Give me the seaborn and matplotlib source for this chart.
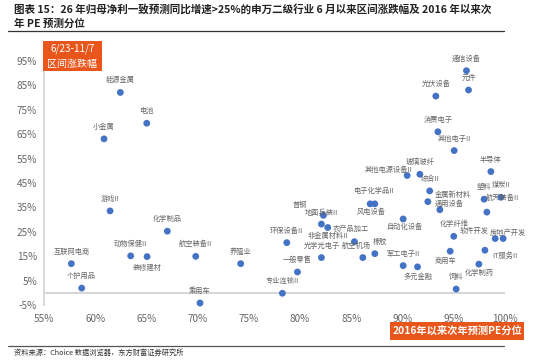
import matplotlib
matplotlib.use("Agg")
import matplotlib.pyplot as plt
import seaborn as sns
import pandas as pd
from matplotlib.patches import Rectangle
from matplotlib.lines import Line2D

sns.set_theme(style="white")
plt.rcParams['font.family'] = ['Noto Sans CJK SC', 'DejaVu Sans']
plt.rcParams['axes.unicode_minus'] = False

# ---- data ----
names = ["能源金属", "电池", "小金属", "通信设备", "元件", "光伏设备", "消费电子", "其他电子II",
         "半导体", "其他电源设备II", "玻璃玻纤", "综合II", "金属新材料", "通用设备", "塑料",
         "煤炭II", "航天装备II", "自动化设备", "化学纤维", "软件开发", "房地产开发", "IT服务II",
         "化学制药", "商用车", "饲料", "军工电子II", "多元金融", "橡胶", "航空机场", "农产品加工",
         "电子化学品II", "风电设备", "普钢", "地面兵装II", "非金属材料II", "环保设备II",
         "光学光电子", "一般零售", "专业连锁II", "游戏II", "化学制品", "动物保健II", "装修建材",
         "航空装备II", "互联网电商", "养殖业", "个护用品", "乘用车"]
pe_pct = [62.45, 65.03, 60.86, 96.24, 96.44, 93.25, 93.45, 95.04,
          98.62, 90.45, 91.69, 92.65, 92.47, 93.64, 97.96,
          99.60, 98.23, 90.06, 95.00, 99.04, 99.82, 98.04,
          97.45, 94.65, 95.23, 90.06, 91.46, 87.29, 86.12, 85.30,
          86.84, 87.29, 82.27, 82.08, 82.70, 78.70,
          82.08, 79.74, 78.27, 61.45, 67.04, 63.46, 65.06,
          69.81, 57.67, 74.20, 58.68, 70.23]
chg = [82.1, 69.5, 63.1, 91.0, 83.1, 80.6, 66.0, 58.3,
       49.7, 48.1, 48.6, 41.8, 37.4, 34.1, 38.4,
       39.2, 33.1, 30.3, 23.2, 22.3, 22.3, 17.5,
       11.8, 17.1, 1.6, 11.2, 10.7, 16.1, 14.5, 21.0,
       36.5, 36.5, 31.8, 28.2, 26.8, 20.6,
       14.5, 8.6, -0.1, 33.6, 25.3, 15.2, 14.9,
       15.0, 12.0, 12.0, 2.0, -4.1]
x_ticks = [55, 60, 65, 70, 75, 80, 85, 90, 95, 100]
y_ticks = [-5, 5, 15, 25, 35, 45, 55, 65, 75, 85, 95]

df = pd.DataFrame({"name": names, "pe": pe_pct, "chg": chg})

# label offsets in pixels (dx, dy); default is centred above the dot
label_offsets = {
    "其他电源设备II": (-19, 6), "金属新材料": (25, 7), "通用设备": (9, 6),
    "航天装备II": (16, 14), "自动化设备": (2, -8), "软件开发": (-21, 8),
    "房地产开发": (5, 6), "IT服务II": (20, -6), "化学制药": (0, -9),
    "商用车": (-5, -10), "多元金融": (0, -10), "农产品加工": (-4, 13),
    "电子化学品II": (3, 13), "风电设备": (-4, -8), "普钢": (-23, 10),
    "地面兵装II": (0, 11), "非金属材料II": (0, -8), "装修建材": (0, -11),
    "橡胶": (5, 12), "航空机场": (-7, 12),
}

W, H = 550, 360
fig = plt.figure(figsize=(5.5, 3.6), dpi=100)
fig.patch.set_facecolor("white")

def fx(px):
    return px / W

def fy(py):
    return 1 - py / H

ax = fig.add_axes([fx(44), fy(305.2), fx(505) - fx(44), fy(53.6) - fy(305.2)])
ax.set_facecolor("none")

sns.scatterplot(data=df, x="pe", y="chg", ax=ax, color="#4472C4", s=24,
                edgecolor="none", legend=False, clip_on=False, zorder=3)

for n, xv, yv in zip(names, pe_pct, chg):
    dx, dy = label_offsets.get(n, (0, 12))
    ax.annotate(n, (xv, yv), xytext=(dx, dy), textcoords="offset pixels",
                ha="center", va="center", fontsize=5.2, color="#666666", zorder=4)

ax.set_xlim(55, 100)
ax.set_ylim(-5, 98)
ax.axhline(0, color="#d0d0d0", lw=1.2, zorder=1)
ax.set_xticks(x_ticks)
ax.set_xticklabels([f"{v}%" for v in x_ticks])
ax.set_yticks(y_ticks)
ax.set_yticklabels([f"{v}%" for v in y_ticks])
ax.tick_params(axis="both", length=0, labelsize=7.2, colors="#666666")
ax.tick_params(axis="x", pad=6)
ax.tick_params(axis="y", pad=5)
ax.set_xlabel("")
ax.set_ylabel("")
for s in ["top", "right", "bottom"]:
    ax.spines[s].set_visible(False)
ax.spines["left"].set_color("#d9d9d9")
ax.spines["left"].set_linewidth(1.4)

orange = "#E9561B"
# top-left box
fig.patches.append(Rectangle((fx(43), fy(71)), fx(102) - fx(43), fy(41) - fy(71),
                             transform=fig.transFigure, facecolor=orange, edgecolor="none", zorder=5))
fig.text(fx(72.5), fy(49), "6/23-11/7", ha="center", va="center", color="white",
         fontsize=7.2, zorder=6)
fig.text(fx(72.5), fy(64), "区间涨跌幅", ha="center", va="center", color="white",
         fontsize=7.2, zorder=6)
# bottom-right box
fig.patches.append(Rectangle((fx(390), fy(339.5)), fx(524) - fx(390), fy(321.5) - fy(339.5),
                             transform=fig.transFigure, facecolor=orange, edgecolor="none", zorder=5))
fig.text(fx(457), fy(330.5), "2016年以来次年预测PE分位", ha="center", va="center",
         color="white", fontsize=7.4, fontweight="bold", zorder=6)

# title
fig.text(fx(14), fy(9), "图表 15：26 年归母净利一致预测同比增速>25%的申万二级行业 6 月以来区间涨跌幅及 2016 年以来次",
         ha="left", va="center", fontsize=7.6, fontweight="bold", color="#222222")
fig.text(fx(14), fy(23.5), "年 PE 预测分位", ha="left", va="center", fontsize=7.6,
         fontweight="bold", color="#222222")
fig.lines.append(Line2D([fx(8), fx(504)], [fy(31), fy(31)], transform=fig.transFigure,
                        color="#333333", lw=0.9))
fig.lines.append(Line2D([fx(8), fx(504)], [fy(345.5), fy(345.5)], transform=fig.transFigure,
                        color="#555555", lw=0.9))
fig.text(fx(14), fy(352.5), "资料来源：Choice 数据浏览器，东方财富证券研究所", ha="left",
         va="center", fontsize=5.2, color="#333333")

fig.savefig("out.png", dpi=100)
